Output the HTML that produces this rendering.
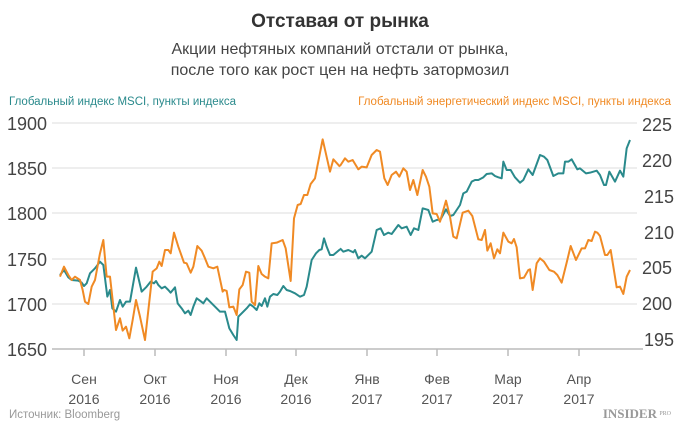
<!DOCTYPE html>
<html><head><meta charset="utf-8"><style>
body{margin:0;background:#fff;width:680px;height:429px;overflow:hidden;font-family:"Liberation Sans",sans-serif}
</style></head><body>
<svg width="680" height="429" viewBox="0 0 680 429" xmlns="http://www.w3.org/2000/svg" font-family="Liberation Sans, sans-serif">
<text x="340" y="27" text-anchor="middle" font-size="19" font-weight="bold" fill="#333">Отставая от рынка</text>
<text x="340" y="54" text-anchor="middle" font-size="16" fill="#444">Акции нефтяных компаний отстали от рынка,</text>
<text x="340" y="75" text-anchor="middle" font-size="16" fill="#444">после того как рост цен на нефть затормозил</text>
<text x="9" y="105" font-size="11.5" fill="#2a8a8c">Глобальный индекс MSCI, пункты индекса</text>
<text x="671" y="105" text-anchor="end" font-size="11.5" fill="#f08a24">Глобальный энергетический индекс MSCI, пункты индекса</text>
<g stroke="#e8e8e8" stroke-width="1.5">
<line x1="52" y1="123" x2="637" y2="123"/><line x1="52" y1="168" x2="637" y2="168"/><line x1="52" y1="213" x2="637" y2="213"/><line x1="52" y1="259" x2="637" y2="259"/><line x1="52" y1="304" x2="637" y2="304"/>
</g>
<line x1="52" y1="349" x2="643" y2="349" stroke="#bbb" stroke-width="1.5"/>
<g stroke="#bbb" stroke-width="1.5">
<line x1="84" y1="349" x2="84" y2="356"/><line x1="155" y1="349" x2="155" y2="356"/><line x1="226" y1="349" x2="226" y2="356"/><line x1="296" y1="349" x2="296" y2="356"/><line x1="367" y1="349" x2="367" y2="356"/><line x1="437" y1="349" x2="437" y2="356"/><line x1="508" y1="349" x2="508" y2="356"/><line x1="579" y1="349" x2="579" y2="356"/>
</g>
<g font-size="18" fill="#444" text-anchor="end">
<text x="47" y="130">1900</text><text x="47" y="175">1850</text><text x="47" y="220">1800</text><text x="47" y="266">1750</text><text x="47" y="311">1700</text><text x="47" y="356">1650</text>
</g>
<g font-size="18" fill="#444">
<text x="642" y="131">225</text><text x="642" y="167">220</text><text x="644" y="203">215</text><text x="644" y="239">210</text><text x="642" y="274">205</text><text x="642" y="310">200</text><text x="644" y="346">195</text>
</g>
<g font-size="14" fill="#555" text-anchor="middle">
<text x="84" y="384">Сен</text><text x="84" y="404">2016</text>
<text x="155" y="384">Окт</text><text x="155" y="404">2016</text>
<text x="226" y="384">Ноя</text><text x="226" y="404">2016</text>
<text x="296" y="384">Дек</text><text x="296" y="404">2016</text>
<text x="367" y="384">Янв</text><text x="367" y="404">2017</text>
<text x="437" y="384">Фев</text><text x="437" y="404">2017</text>
<text x="508" y="384">Мар</text><text x="508" y="404">2017</text>
<text x="579" y="384">Апр</text><text x="579" y="404">2017</text>
</g>
<text x="9" y="418" font-size="11.5" fill="#999">Источник: Bloomberg</text>
<text x="657" y="418" text-anchor="end" font-family="Liberation Serif, serif" font-weight="bold" font-size="13" fill="#999">INSIDER</text>
<text x="671" y="415" text-anchor="end" font-family="Liberation Serif, serif" font-size="6" fill="#999">PRO</text>
<g fill="none" stroke-width="6" stroke-linejoin="round">
<g transform="translate(0,90) scale(0.33333)" stroke="#2a8a8c">
<polyline points="180,555 192,540 205,562 215,570 235,572 245,578 252,588 260,580 270,550 285,535 300,515 310,525 322,620 330,600 337,655 348,665 360,630 368,650 378,635 390,635 408,533 425,605 440,590 452,575 462,580 468,573 475,585 485,595 495,590 505,600 512,608 525,592 533,640 545,655 555,670 565,662 572,675 580,650 590,625 600,632 610,640 620,625 635,640 650,655 660,665 675,665 688,715 700,735 710,750 715,680 730,665 740,655 750,643 760,650 770,660 778,640 785,648 795,625 802,650 810,620 820,612 832,615 840,605 850,588 860,600 870,603 885,610 900,620 912,615 920,590 935,510 948,490 958,480 965,478 972,445 980,470 990,495 1000,495 1020,478"/>
</g>
<g transform="translate(340,90) scale(0.33333)" stroke="#2a8a8c">
<polyline points="0,475 10,485 25,480 40,487 45,480 55,505 65,497 75,505 95,485 110,420 122,415 132,435 145,428 155,432 175,405 185,415 200,410 212,435 222,415 235,420 248,355 265,360 278,395 290,390 302,388 318,358 330,378 340,375 360,345 370,310 380,305 395,275 405,270 415,270 430,262 440,252 455,250 465,258 475,262 485,265 490,215 500,240 512,240 525,262 540,278 550,270 565,238 578,255 600,195 612,200 622,210 640,258 655,250 670,250 675,215 685,215 695,208 712,238 720,235 738,250 750,248 770,242 780,255 792,285 798,285 808,245 825,275 840,242 850,260 860,175 870,150"/>
</g>
<g transform="translate(0,90) scale(0.33333)" stroke="#f08a24">
<polyline points="180,560 192,530 205,555 215,570 225,560 240,570 248,600 255,635 265,642 275,590 285,570 300,490 310,450 320,560 330,560 348,720 360,685 368,722 378,710 388,745 398,690 408,630 420,680 435,750 458,545 470,535 478,515 485,528 495,480 505,480 512,490 522,428 535,470 552,518 560,520 572,548 580,530 592,468 605,482 615,505 625,530 640,535 652,530 668,605 672,600 680,603 688,652 700,650 710,675 718,598 728,585 738,545 748,548 755,635 765,645 775,528 785,552 795,560 805,565 815,460 830,458 848,450 857,475 872,573 882,385 893,345 902,342 912,315 922,315 932,282 945,265 968,148 990,245 1000,208 1020,230"/>
</g>
<g transform="translate(340,90) scale(0.33333)" stroke="#f08a24">
<polyline points="0,228 15,205 25,215 38,210 55,238 65,230 80,232 95,195 110,180 120,185 133,265 143,285 155,255 168,245 178,260 190,235 200,245 210,300 220,270 232,315 248,240 258,260 268,290 278,370 290,372 300,395 318,332 330,380 340,440 350,445 368,368 385,362 397,378 415,448 425,450 435,420 442,482 452,460 462,505 472,478 480,490 490,428 505,455 515,460 522,447 530,472 540,565 552,563 565,540 570,538 578,600 590,520 600,505 612,515 628,540 642,545 652,555 665,578 680,518 692,468 708,510 725,475 735,475 745,450 755,453 765,425 772,428 780,438 795,495 802,495 812,480 830,592 840,590 850,612 860,560 870,540"/>
</g>
</g>
</svg>
</body></html>
